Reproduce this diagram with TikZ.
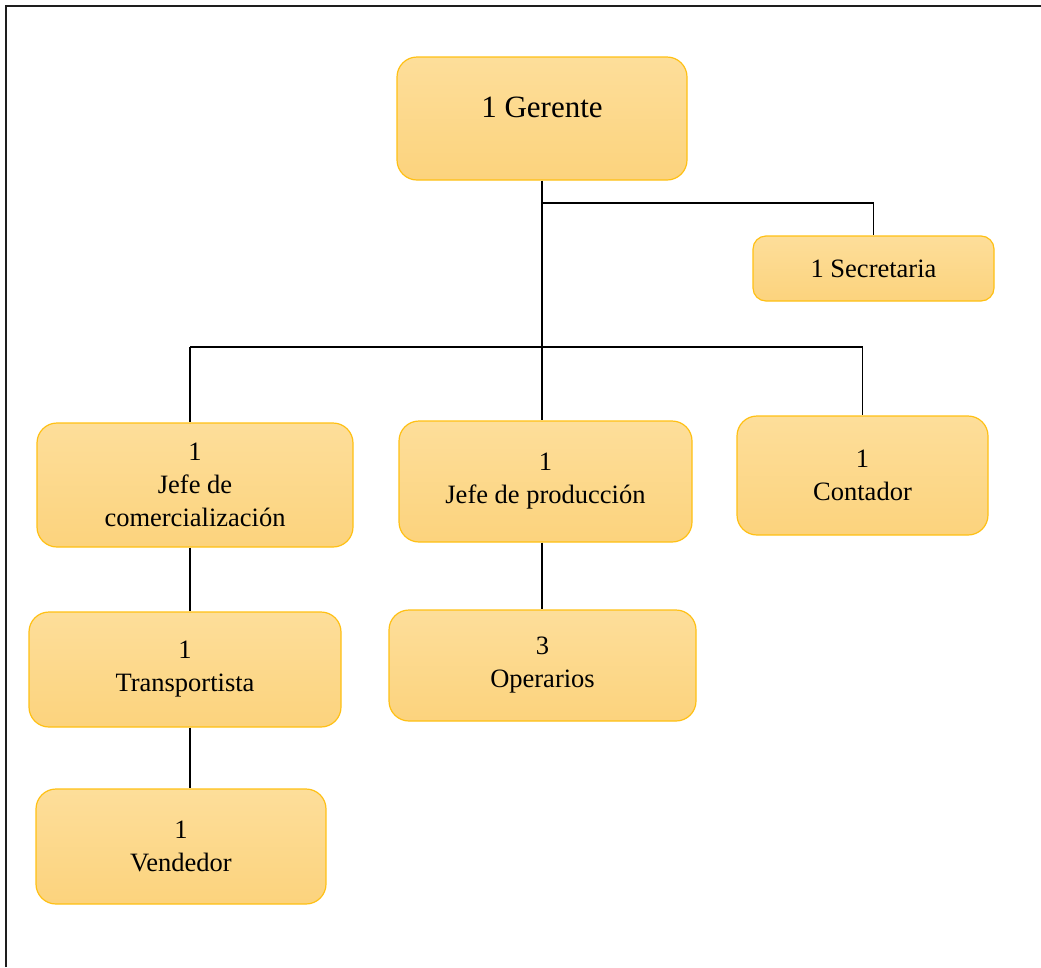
\documentclass[tikz,border=0pt]{standalone}
\usepackage{fontspec}
\setmainfont{Liberation Serif}
\definecolor{boxtop}{RGB}{253,222,154}
\definecolor{boxbot}{RGB}{252,211,125}
\definecolor{boxedge}{RGB}{255,192,20}
\definecolor{framecol}{RGB}{30,30,30}
\begin{document}
\begin{tikzpicture}[x=1pt,y=-1pt,
  orgbox/.style={draw=boxedge, line width=1.2pt, rounded corners=20pt,
    top color=boxtop, bottom color=boxbot, inner sep=0pt, align=center,
    font=\fontsize{26.5}{33}\selectfont},
  link/.style={draw=black, line width=1.1pt}]
\useasboundingbox (0,0) rectangle (1041,967);
% page frame (only its left and upper sides fall inside the picture)
\draw[framecol, line width=2.2pt] (6,967) -- (6,6) -- (1041,6);

% boxes
\node[orgbox, minimum width=290pt, minimum height=123pt] (ger) at (542,118.5) {};
\node[font=\fontsize{31}{36}\selectfont] (gertext) at (542,107) {1 Gerente};
\node[orgbox, rounded corners=13pt, minimum width=241pt, minimum height=65pt] (sec) at (873.5,268.5) {1 Secretaria};
\node[orgbox, minimum width=316pt, minimum height=124pt] (jc) at (195,485) {1\\Jefe de\\comercialización};
\node[orgbox, minimum width=293pt, minimum height=121pt] (jp) at (545.5,481.5) {1\\Jefe de producción};
\node[orgbox, minimum width=251pt, minimum height=119pt] (cont) at (862.5,475.5) {1\\Contador};
\node[orgbox, minimum width=312pt, minimum height=115pt] (tr) at (185,669.5) {1\\Transportista};
\node[orgbox, minimum width=307pt, minimum height=111pt] (op) at (542.5,665.5) {3\\Operarios};
\node[orgbox, minimum width=290pt, minimum height=115pt] (ven) at (181,846.5) {1\\Vendedor};

% connectors
\coordinate (sj) at (542,203);
\coordinate (barL) at (190,347);
\coordinate (barR) at (cont.north |- barL);
\draw[link] (ger.south) -- (ger.south |- jp.north);
\draw[link] (sj) -| (sec.north);
\draw[link] (barL) -- (barR) -- (cont.north);
\draw[link] (barL) -- (barL |- jc.north);
\draw[link] (jc.south -| barL) -- (tr.north -| barL);
\draw[link] (tr.south -| barL) -- (ven.north -| barL);
\draw[link] (jp.south -| ger.south) -- (op.north -| ger.south);
\end{tikzpicture}
\end{document}
